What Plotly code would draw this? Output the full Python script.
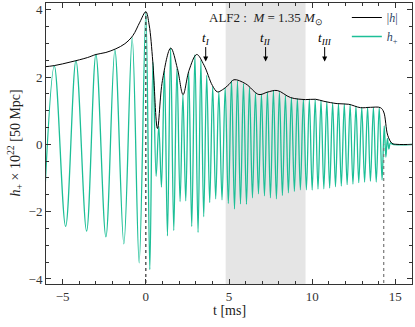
import plotly.graph_objects as go

# inspiral extrema of h+ (ms, strain x 1e22)
inspiral_t = [-6.15, -5.5, -4.82, -4.2, -3.56, -3.0, -2.4, -1.86, -1.32, -0.82, -0.4, 0.0]
inspiral_h = [-2.30, 2.33, -2.44, 2.49, -2.58, 2.67, -2.75, 2.81, -2.96, 3.17, -3.52, 3.94]

# post-merger troughs and peaks of h+
trough_t = [0.24, 0.62, 0.94, 1.30, 1.68, 2.06, 2.40, 2.76, 3.14, 3.48,
            3.84, 4.20, 4.58, 4.96, 5.33, 5.69, 6.05, 6.41, 6.77, 7.13,
            7.49, 7.85, 8.21, 8.57, 8.93, 9.29, 9.65, 10.00, 10.35, 10.70,
            11.05, 11.40, 11.75, 12.10, 12.45, 12.80, 13.15, 13.50, 13.85, 14.20]
trough_h = [-3.72, -0.95, -1.27, -2.72, -2.56, -1.70, -1.68, -2.44, -2.62, -2.15,
            -1.73, -1.62, -1.65, -1.76, -1.92, -1.77, -1.78, -1.59, -1.47, -1.53,
            -1.59, -1.62, -1.52, -1.44, -1.40, -1.35, -1.35, -1.36, -1.33, -1.32,
            -1.30, -1.26, -1.24, -1.20, -1.18, -1.14, -1.12, -1.10, -1.12, -1.06]
peak_t = [0.43, 0.78, 1.12, 1.49, 1.87, 2.23, 2.58, 2.95, 3.31, 3.66,
          4.02, 4.39, 4.77, 5.15, 5.51, 5.87, 6.23, 6.59, 6.95, 7.31,
          7.67, 8.03, 8.39, 8.75, 9.11, 9.47, 9.83, 10.18, 10.53, 10.88,
          11.23, 11.58, 11.93, 12.28, 12.63, 12.98, 13.33, 13.68, 14.03]
peak_h = [2.45, 0.55, 2.20, 2.86, 2.25, 1.48, 2.15, 2.66, 2.50, 2.05,
          1.72, 1.56, 1.68, 1.90, 1.88, 1.80, 1.70, 1.52, 1.50, 1.56,
          1.60, 1.55, 1.45, 1.39, 1.36, 1.33, 1.34, 1.33, 1.30, 1.27,
          1.23, 1.21, 1.20, 1.18, 1.13, 1.10, 1.10, 1.10, 1.09]

# collapse / ringdown
ringdown_t = [14.33, 14.43, 14.52, 14.61, 14.70, 14.85, 16.2]
ringdown_h = [0.55, -0.38, 0.18, -0.14, 0.04, 0.0, 0.0]

# amplitude |h|
env_t = [-6.2, -5.5, -4.5, -3.5, -3.0, -2.4, -1.8, -1.26, -0.78, -0.36,
         0.0, 0.2, 0.42, 0.7, 1.0, 1.5, 1.9, 2.24, 2.6, 3.06,
         3.5, 4.0, 4.3, 4.6, 5.0, 5.3, 6.0, 6.8, 7.3, 7.9,
         8.7, 9.6, 10.2, 10.7, 11.5, 12.2, 12.9, 13.5, 14.1, 14.3,
         14.54, 14.8, 15.1, 16.2]
env_h = [2.30, 2.34, 2.45, 2.58, 2.67, 2.73, 2.84, 2.99, 3.23, 3.63,
         3.94, 3.55, 2.45, 0.47, 1.90, 2.86, 2.25, 1.48, 2.20, 2.67,
         2.35, 1.75, 1.56, 1.62, 1.78, 1.92, 1.80, 1.48, 1.55, 1.60,
         1.39, 1.33, 1.34, 1.28, 1.21, 1.19, 1.09, 1.10, 1.09, 0.96,
         0.27, 0.03, 0.0, 0.0]

merger_t = 0.0
merger_h = 3.94
collapse_t = 14.3
shade_range = [4.8, 9.6]
marker_t = [3.6, 7.2, 10.75]
marker_labels = ['<i>t<sub>I</sub></i>', '<i>t<sub>II</sub></i>', '<i>t<sub>III</sub></i>']
marker_h = 2.46

GREEN = '#1dbf97'
FONT = 'Liberation Serif'

pts = sorted(zip(inspiral_t + trough_t + peak_t + ringdown_t,
                 inspiral_h + trough_h + peak_h + ringdown_h))
hp_t = [p[0] for p in pts]
hp_h = [p[1] for p in pts]

fig = go.Figure()
fig.add_shape(type='rect', xref='x', yref='paper', x0=shade_range[0], x1=shade_range[1],
              y0=0, y1=1, fillcolor='#e5e5e5', line_width=0, layer='below')

fig.add_trace(go.Scatter(x=hp_t, y=hp_h, mode='lines', name='<i>h</i><sub>+</sub>',
                         line=dict(color=GREEN, width=1.3, shape='spline'), legendrank=2))
fig.add_trace(go.Scatter(x=env_t, y=env_h, mode='lines', name='|<i>h</i>|',
                         line=dict(color='black', width=1, shape='spline'), legendrank=1))
fig.add_trace(go.Scatter(x=[merger_t, merger_t], y=[-4.3, merger_h], mode='lines',
                         line=dict(color='#333333', width=1.2, dash='dot'), showlegend=False))
fig.add_trace(go.Scatter(x=[collapse_t, collapse_t], y=[-4.3, 0], mode='lines',
                         line=dict(color='#777777', width=1.2, dash='dot'), showlegend=False))

for t, lab in zip(marker_t, marker_labels):
    fig.add_annotation(x=t, y=marker_h, ax=0, ay=-16, text='', showarrow=True,
                       arrowhead=2, arrowsize=1, arrowwidth=1, arrowcolor='black')
    fig.add_annotation(x=t, y=marker_h, yshift=23, text=lab, showarrow=False,
                       font=dict(size=13, family=FONT, color='black'))

fig.add_annotation(x=7.24, y=3.73, text='ALF2 :  <i>M</i> = 1.35 <i>M</i><sub>\u2299</sub>',
                   showarrow=False, font=dict(size=13, family=FONT, color='#222222'))

# axis titles
fig.add_annotation(xref='paper', yref='paper', x=0.5, y=0, yshift=-26, yanchor='middle',
                   text='t [ms]', showarrow=False,
                   font=dict(size=14, family=FONT, color='#222222'))
fig.add_annotation(xref='paper', yref='paper', x=0, y=0.5, xshift=-31, xanchor='center',
                   yanchor='middle', textangle=-90,
                   text='<i>h</i><sub>+</sub> \u00d7 10<sup>22</sup> [50 Mpc]',
                   showarrow=False, font=dict(size=14, family=FONT, color='#222222'))

axis_common = dict(showline=True, linecolor='#333333', linewidth=1, mirror='allticks',
                   ticks='inside', ticklen=5, tickcolor='#333333', showgrid=False,
                   zeroline=False, automargin=False,
                   tickfont=dict(size=13, family=FONT, color='#333333'))
fig.update_xaxes(range=[-6, 16], dtick=5, tick0=0,
                 minor=dict(ticks='inside', ticklen=3, dtick=1, tickcolor='#333333'),
                 **axis_common)
fig.update_yaxes(range=[-4.15, 4.2], dtick=2, tick0=0,
                 minor=dict(ticks='inside', ticklen=3, dtick=0.5, tickcolor='#333333'),
                 **axis_common)

fig.update_layout(width=415, height=327, margin=dict(l=46, r=3, t=3, b=43),
                  plot_bgcolor='white', paper_bgcolor='white',
                  legend=dict(x=0.975, y=1.0, xanchor='right', yanchor='top',
                              bgcolor='rgba(0,0,0,0)', font=dict(size=12, family=FONT),
                              tracegroupgap=0, itemwidth=30))
fig.write_html("out.html", config={'displayModeBar': False},
               post_script="document.body.style.margin='0';")
